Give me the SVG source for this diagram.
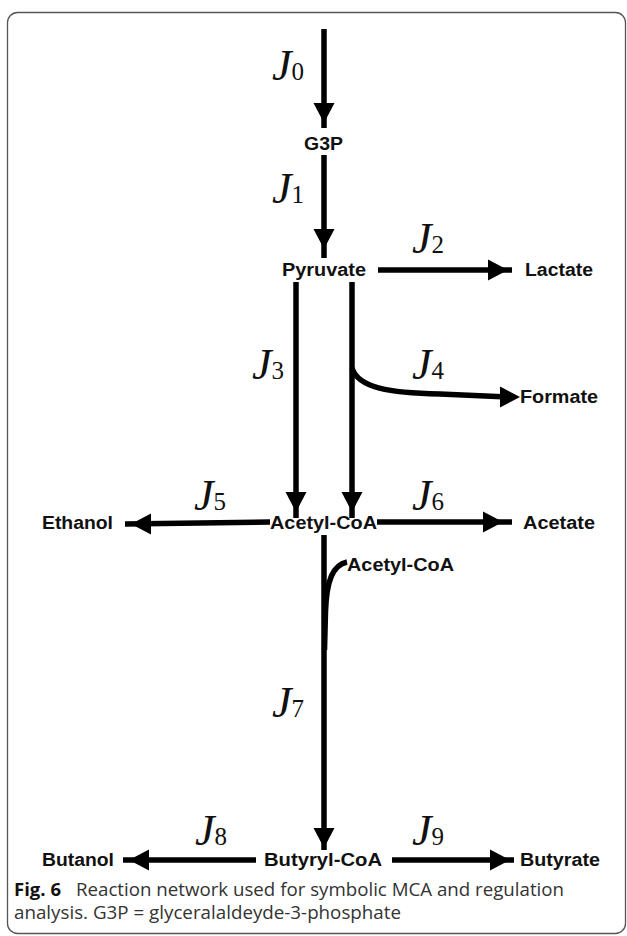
<svg xmlns="http://www.w3.org/2000/svg" xmlns:xlink="http://www.w3.org/1999/xlink" width="627" height="936" viewBox="0 0 627 936">
<defs>
<style>
.node{font-family:"Liberation Sans",Arial,sans-serif;font-weight:bold;font-size:18px;fill:#111}
.j{font-family:"Liberation Serif","Times New Roman",serif;font-style:italic;font-size:44px;fill:#111}
.sub{font-family:"Liberation Serif","Times New Roman",serif;font-size:25px;fill:#111}
.ln{stroke:#000;stroke-width:5.5;fill:none}
.cap{font-family:"Open Sans","Noto Sans",sans-serif;font-size:18px;fill:#333}
.capb{font-family:"Open Sans","Noto Sans",sans-serif;font-size:18px;font-weight:bold;fill:#111}
</style>
<path id="ah" d="M0,0 L-20,-10.5 L-20,10.5 Z" fill="#000"/>
</defs>
<rect x="7.5" y="12.5" width="618" height="921" rx="10" fill="#fff" stroke="#555" stroke-width="1.3"/>
<g id="connectors">
<line class="ln" x1="324" y1="29" x2="324" y2="128"/>
<use xlink:href="#ah" transform="translate(324,123) rotate(90)"/>
<line class="ln" x1="324" y1="155" x2="324" y2="258"/>
<use xlink:href="#ah" transform="translate(324,249) rotate(90)"/>
<line class="ln" x1="378" y1="270" x2="512" y2="270"/>
<use xlink:href="#ah" transform="translate(508,270)"/>
<line class="ln" x1="296" y1="282" x2="296" y2="518"/>
<use xlink:href="#ah" transform="translate(296,512) rotate(90)"/>
<line class="ln" x1="352" y1="282" x2="352" y2="518"/>
<use xlink:href="#ah" transform="translate(352,512) rotate(90)"/>
<path class="ln" d="M352,368 C358,388 390,393 440,394 L508,397"/>
<use xlink:href="#ah" transform="translate(520,397)"/>
<line class="ln" x1="270" y1="522" x2="125" y2="524"/>
<use xlink:href="#ah" transform="translate(131,524) rotate(180)"/>
<line class="ln" x1="377" y1="522" x2="512" y2="522"/>
<use xlink:href="#ah" transform="translate(503,522)"/>
<line class="ln" x1="324" y1="535" x2="324" y2="850"/>
<path class="ln" d="M347,562 C333,565 326.5,580 325.5,612 L324.5,650"/>
<use xlink:href="#ah" transform="translate(324,848) rotate(90)"/>
<line class="ln" x1="256" y1="860" x2="123" y2="860"/>
<use xlink:href="#ah" transform="translate(129,860) rotate(180)"/>
<line class="ln" x1="392" y1="860" x2="514" y2="860"/>
<use xlink:href="#ah" transform="translate(510,860)"/>
</g>
<g id="flux-labels">
<text x="272" y="80"><tspan class="j">J</tspan><tspan class="sub">0</tspan></text>
<text x="272" y="203"><tspan class="j">J</tspan><tspan class="sub">1</tspan></text>
<text x="412" y="253"><tspan class="j">J</tspan><tspan class="sub">2</tspan></text>
<text x="252" y="379"><tspan class="j">J</tspan><tspan class="sub">3</tspan></text>
<text x="412" y="379"><tspan class="j">J</tspan><tspan class="sub">4</tspan></text>
<text x="194" y="510"><tspan class="j">J</tspan><tspan class="sub">5</tspan></text>
<text x="412" y="510"><tspan class="j">J</tspan><tspan class="sub">6</tspan></text>
<text x="272" y="717"><tspan class="j">J</tspan><tspan class="sub">7</tspan></text>
<text x="195" y="845"><tspan class="j">J</tspan><tspan class="sub">8</tspan></text>
<text x="412" y="845"><tspan class="j">J</tspan><tspan class="sub">9</tspan></text>
</g>
<g id="G3P"><text class="node" x="304" y="150" textLength="39" lengthAdjust="spacingAndGlyphs">G3P</text></g>
<g id="Pyruvate"><text class="node" x="282" y="276" textLength="84" lengthAdjust="spacingAndGlyphs">Pyruvate</text></g>
<g id="Lactate"><text class="node" x="525" y="276" textLength="68" lengthAdjust="spacingAndGlyphs">Lactate</text></g>
<g id="Formate"><text class="node" x="520" y="403" textLength="78" lengthAdjust="spacingAndGlyphs">Formate</text></g>
<g id="Ethanol"><text class="node" x="42" y="529" textLength="71" lengthAdjust="spacingAndGlyphs">Ethanol</text></g>
<g id="AcetylCoA"><text class="node" x="270" y="529" textLength="107" lengthAdjust="spacingAndGlyphs">Acetyl-CoA</text></g>
<g id="Acetate"><text class="node" x="523" y="529" textLength="72" lengthAdjust="spacingAndGlyphs">Acetate</text></g>
<g id="AcetylCoA2"><text class="node" x="347" y="571" textLength="107" lengthAdjust="spacingAndGlyphs">Acetyl-CoA</text></g>
<g id="Butanol"><text class="node" x="42" y="866" textLength="72" lengthAdjust="spacingAndGlyphs">Butanol</text></g>
<g id="ButyrylCoA"><text class="node" x="264" y="866" textLength="118" lengthAdjust="spacingAndGlyphs">Butyryl-CoA</text></g>
<g id="Butyrate"><text class="node" x="520" y="866" textLength="80" lengthAdjust="spacingAndGlyphs">Butyrate</text></g>
<g id="caption">
<text class="capb" x="14" y="896" textLength="47" lengthAdjust="spacingAndGlyphs">Fig. 6</text>
<text class="cap" x="76" y="896" textLength="488" lengthAdjust="spacingAndGlyphs">Reaction network used for symbolic MCA and regulation</text>
<text class="cap" x="14" y="919" textLength="387" lengthAdjust="spacingAndGlyphs">analysis. G3P = glyceralaldeyde-3-phosphate</text>
</g>
</svg>
